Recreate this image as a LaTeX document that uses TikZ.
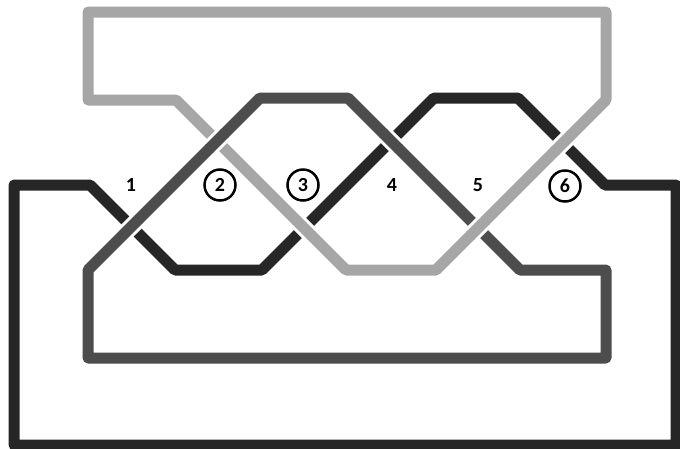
\documentclass[tikz,border=0pt]{standalone}
\usepackage{fontspec}
\setmainfont{Carlito}
\usetikzlibrary{calc}
\definecolor{lightg}{HTML}{A6A6A6}
\definecolor{midg}{HTML}{4D4D4D}
\definecolor{darkg}{HTML}{262626}
\newcommand\overpiece[4]{%
  \draw[gapw] ($(#2)!10pt!(#3)$) -- ($(#2)!10pt!(#4)$);
  \draw[line width=11pt, line cap=butt, #1] ($(#2)!11pt!(#3)$) -- ($(#2)!11pt!(#4)$);}
\begin{document}
\begin{tikzpicture}[x=1pt,y=-1pt,
  strand/.style={line width=11pt, line join=round, line cap=round},
  gapw/.style={white, line width=17pt, line cap=butt},
  lbl/.style={font=\fontsize{20}{20}\selectfont\bfseries, inner sep=0pt, text=black},
  clbl/.style={lbl, draw=black, circle, line width=2.5pt, minimum size=31pt}]
\useasboundingbox (0,0) rectangle (680,448);
\clip (0,0) rectangle (680,448);
% light strand
\coordinate (L1) at (88,12);
\coordinate (L2) at (606,12);
\coordinate (L3) at (606,100);
\coordinate (L4) at (436,270);
\coordinate (L5) at (346,270);
\coordinate (L6) at (176,100);
\coordinate (L7) at (88,100);
% medium strand
\coordinate (M1) at (88,270);
\coordinate (M2) at (260,98);
\coordinate (M3) at (348,98);
\coordinate (M4) at (520,270);
\coordinate (M5) at (606,270);
\coordinate (M6) at (606,358);
\coordinate (M7) at (88,358);
% dark strand
\coordinate (D1) at (14,185);
\coordinate (D2) at (90,185);
\coordinate (D3) at (175,270);
\coordinate (D4) at (262,270);
\coordinate (D5) at (434,98);
\coordinate (D6) at (518,98);
\coordinate (D7) at (605,185);
\coordinate (D8) at (676,185);
\coordinate (D9) at (676,445);
\coordinate (D10) at (14,445);

\draw[strand, darkg] (D1) -- (D2) -- (D3) -- (D4) -- (D5) -- (D6) -- (D7) -- (D8) -- (D9) -- (D10) -- cycle;
\draw[strand, lightg] (L1) -- (L2) -- (L3) -- (L4) -- (L5) -- (L6) -- (L7) -- cycle;
\draw[strand, midg] (M1) -- (M2) -- (M3) -- (M4) -- (M5) -- (M6) -- (M7) -- cycle;

% crossings
\coordinate (X1) at (intersection of D2--D3 and M1--M2);
\coordinate (X2) at (intersection of L5--L6 and M1--M2);
\coordinate (X3) at (intersection of L5--L6 and D4--D5);
\coordinate (X4) at (intersection of D4--D5 and M3--M4);
\coordinate (X5) at (intersection of M3--M4 and L3--L4);
\coordinate (X6) at (intersection of L3--L4 and D6--D7);

\overpiece{midg}{X1}{M1}{M2}
\overpiece{midg}{X2}{M1}{M2}
\overpiece{lightg}{X3}{L5}{L6}
\overpiece{midg}{X4}{M3}{M4}
\overpiece{lightg}{X5}{L3}{L4}
\overpiece{lightg}{X6}{L3}{L4}

% labels
\node[lbl] (n1) at (131,185) {1};
\node[clbl] (n2) at (220,185) {2};
\node[clbl] (n3) at (303,185) {3};
\node[lbl] (n4) at (392,185) {4};
\node[lbl] (n5) at (478,185) {5};
\node[clbl] (n6) at (565,186) {6};
\end{tikzpicture}
\end{document}
